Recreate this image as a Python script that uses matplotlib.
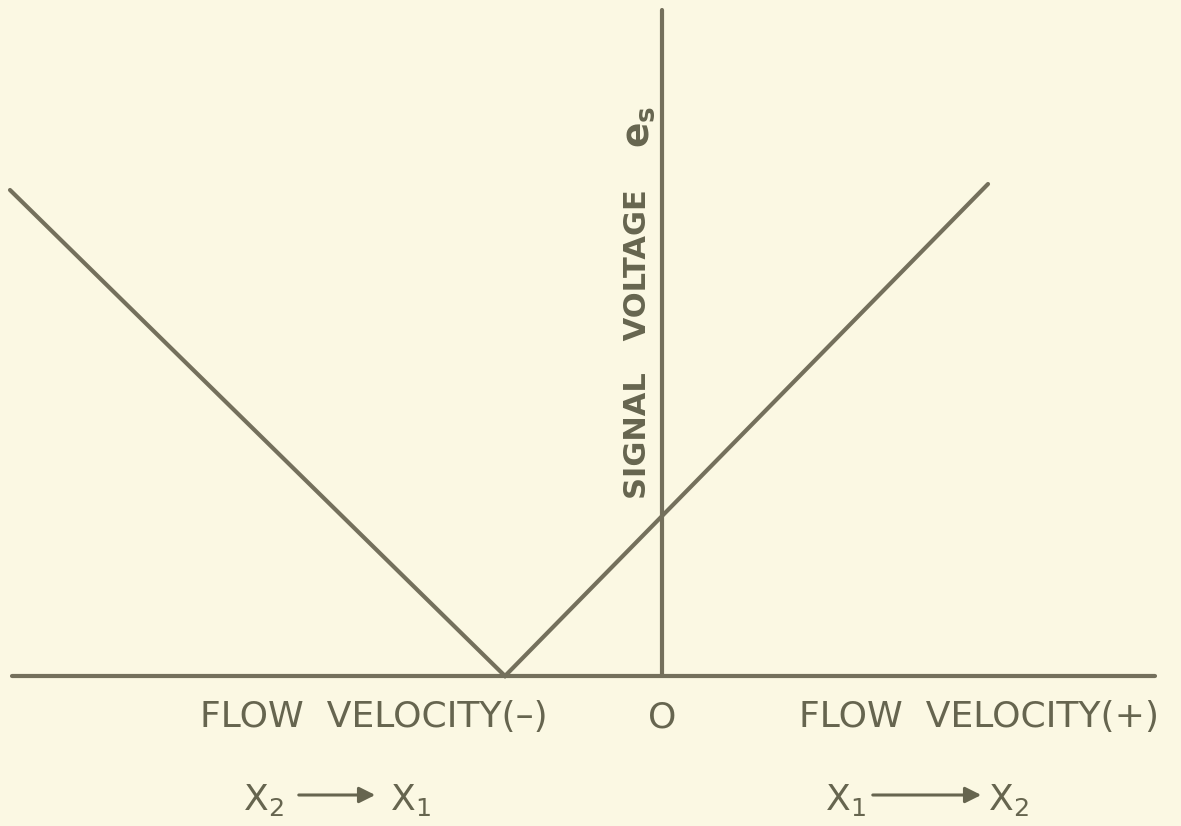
import matplotlib.pyplot as plt

# V-shaped signal voltage vs flow velocity (arbitrary units, origin at axis crossing)
flow_velocity = [-6.52, -1.57, 3.26]
signal_voltage = [4.86, 0.0, 4.92]

x_axis_span = [-6.50, 4.93]
y_axis_span = [0.0, 6.66]

bg = "#fbf8e3"
ink = "#74705c"
text_ink = "#66654f"

fig = plt.figure(figsize=(11.81, 8.26), dpi=100, facecolor=bg)
ax = fig.add_axes([0, 0, 1, 1], facecolor=bg)
ax.set_xlim(-6.62, 5.19)
ax.set_ylim(-1.50, 6.76)
ax.axis("off")

# axes drawn by hand like the original sketch
ax.plot(x_axis_span, [0, 0], color=ink, lw=3.0, solid_capstyle="round")
ax.plot([0, 0], y_axis_span, color=ink, lw=3.0, solid_capstyle="round")

# response curve
ax.plot(flow_velocity, signal_voltage, color=ink, lw=3.0,
        solid_capstyle="round", solid_joinstyle="miter")

# labels
lab = dict(color=text_ink, fontsize=26, family="DejaVu Sans")
ax.text(-2.88, -0.41, "FLOW  VELOCITY(–)", ha="center", va="center", **lab)
ax.text(0.0, -0.41, "O", ha="center", va="center", **lab)
ax.text(3.17, -0.41, "FLOW  VELOCITY(+)", ha="center", va="center", **lab)

ax.text(-0.24, 3.32, "SIGNAL   VOLTAGE", rotation=90, ha="center", va="center",
        color=text_ink, fontsize=22, fontweight="bold")
ax.text(-0.23, 5.49, r"$\mathregular{e_s}$", rotation=90, ha="center", va="center",
        color=text_ink, fontsize=27, fontweight="bold")

# direction arrows
ax.text(-3.99, -1.24, r"$\mathregular{X_2}$", ha="center", va="center", **lab)
ax.text(-2.52, -1.24, r"$\mathregular{X_1}$", ha="center", va="center", **lab)
ax.annotate("", xy=(-2.84, -1.19), xytext=(-3.66, -1.19),
            arrowprops=dict(arrowstyle="-|>", color=text_ink, lw=2.2,
                            mutation_scale=24))

ax.text(1.83, -1.24, r"$\mathregular{X_1}$", ha="center", va="center", **lab)
ax.text(3.46, -1.24, r"$\mathregular{X_2}$", ha="center", va="center", **lab)
ax.annotate("", xy=(3.22, -1.19), xytext=(2.08, -1.19),
            arrowprops=dict(arrowstyle="-|>", color=text_ink, lw=2.2,
                            mutation_scale=24))

fig.savefig("out.png", dpi=100, facecolor=bg)
